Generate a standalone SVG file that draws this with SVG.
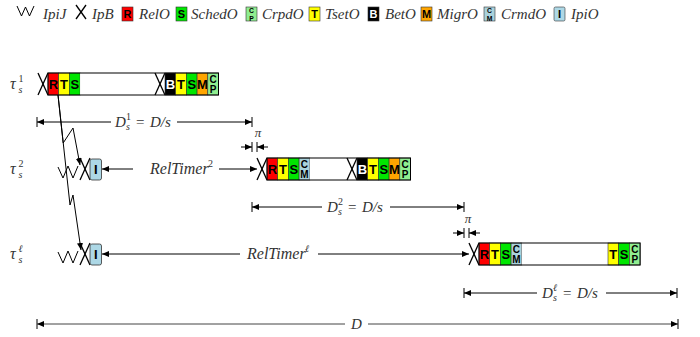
<svg xmlns="http://www.w3.org/2000/svg" width="700" height="337" viewBox="0 0 700 337">
<defs>
<style>
.m{font-style:italic;fill:#333;font-size:15px}
.mb{font-style:italic;fill:#333;font-size:16px}
.r{fill:#333;font-size:15px}
.sm{fill:#333;font-size:10px}
.smi{font-style:italic;fill:#333;font-size:10px}
.ln{stroke:#000;stroke-width:1;fill:none}
.x{stroke:#000;stroke-width:1.3;fill:none}
.c{stroke:#333;stroke-width:0.6}
.o{stroke:#000;stroke-width:1;fill:none}
.lt{font-weight:bold;font-size:13px;text-anchor:middle;fill:#000}
.lt2{font-weight:bold;font-size:10px;text-anchor:middle;fill:#000}
.ll{font-weight:bold;font-size:11px;text-anchor:middle;fill:#000}
.ll2{font-weight:bold;font-size:6.8px;text-anchor:middle;fill:#000}
.R{fill:#ff0000}.T{fill:#ffff00}.S{fill:#00e600}.M{fill:#ffa500}.B{fill:#000}.CP{fill:#90ee90}.CM{fill:#a9d2dc}.I{fill:#add8e6}.W{fill:#fff}
</style>
<marker id="ah" markerWidth="8" markerHeight="6" refX="7" refY="3" orient="auto-start-reverse" markerUnits="userSpaceOnUse">
<path d="M0,0 L7,3 L0,6 z" fill="#000"/>
</marker>
</defs>
<rect width="700" height="337" fill="#fff"/>

<g id="legend">
<polyline class="ln" points="17,6 21.5,16 25.5,7 29.5,16 34,6"/>
<line class="x" x1="76" y1="5" x2="86" y2="19"/><line class="x" x1="76" y1="19" x2="86" y2="5"/>
<rect class="R c" x="122" y="7" width="11" height="14"/>
<rect class="S c" x="176" y="7" width="11" height="14"/>
<rect class="CP c" x="246" y="7" width="11" height="14"/>
<rect class="T c" x="309" y="7" width="11" height="14"/>
<rect class="B c" x="368" y="7" width="11" height="14"/>
<rect class="M c" x="421" y="7" width="11" height="14"/>
<rect class="CM c" x="484" y="7" width="11" height="14"/>
<rect class="I c" x="554" y="7" width="11" height="14" rx="1.5"/>
<g font-family="'Liberation Sans', Arial, sans-serif">
<text class="ll" x="127.5" y="18">R</text>
<text class="ll" x="181.5" y="18">S</text>
<text class="ll2" x="251.5" y="13">C</text><text class="ll2" x="251.5" y="20.8">P</text>
<text class="ll" x="314.5" y="18">T</text>
<text class="ll" x="373.5" y="18" style="fill:#fff">B</text>
<text class="ll" x="426.5" y="18">M</text>
<text class="ll2" x="489.5" y="13">C</text><text class="ll2" x="489.5" y="20.8">M</text>
<text class="ll" x="559.5" y="18">I</text>
</g>
<g font-family="'Liberation Serif', 'DejaVu Serif', serif">
<text class="m" x="43" y="19">IpiJ</text>
<text class="m" x="92" y="19">IpB</text>
<text class="m" x="139" y="19">RelO</text>
<text class="m" x="191" y="19">SchedO</text>
<text class="m" x="262" y="19">CrpdO</text>
<text class="m" x="325" y="19">TsetO</text>
<text class="m" x="385" y="19">BetO</text>
<text class="m" x="437" y="19">MigrO</text>
<text class="m" x="501" y="19">CrmdO</text>
<text class="m" x="571" y="19">IpiO</text>
</g>
</g>

<g id="labels" font-family="'Liberation Serif', 'DejaVu Serif', serif">
<text class="mb" x="10" y="89">τ</text><text class="sm" x="18.5" y="82">1</text><text class="smi" x="18.5" y="93">s</text>
<text class="mb" x="10" y="174">τ</text><text class="sm" x="18.5" y="167">2</text><text class="smi" x="18.5" y="178">s</text>
<text class="mb" x="10" y="259">τ</text><text class="smi" x="18.5" y="252">ℓ</text><text class="smi" x="18.5" y="263">s</text>
</g>

<g id="task1" font-family="'Liberation Sans', Arial, sans-serif">
<line class="x" x1="38" y1="73" x2="48" y2="95"/><line class="x" x1="38" y1="95" x2="48" y2="73"/>
<rect class="R c" x="48" y="73" width="10.7" height="22"/><text class="lt" x="53.35" y="89">R</text>
<rect class="T c" x="58.7" y="73" width="10.7" height="22"/><text class="lt" x="64.05" y="89">T</text>
<rect class="S c" x="69.4" y="73" width="10.7" height="22"/><text class="lt" x="74.75" y="89">S</text>
<rect class="W" x="80.1" y="73" width="84.9" height="22"/>
<line class="x" x1="155" y1="73" x2="165" y2="95"/><line class="x" x1="155" y1="95" x2="165" y2="73"/>
<rect class="B c" x="165" y="73" width="10.7" height="22"/><text class="lt" x="170.35" y="89" style="fill:#fff">B</text>
<rect class="T c" x="175.7" y="73" width="10.7" height="22"/><text class="lt" x="181.05" y="89">T</text>
<rect class="S c" x="186.4" y="73" width="10.7" height="22"/><text class="lt" x="191.75" y="89">S</text>
<rect class="M c" x="197.1" y="73" width="10.7" height="22"/><text class="lt" x="202.45" y="89">M</text>
<rect class="CP c" x="207.8" y="73" width="10.7" height="22"/><text class="lt2" x="213.15" y="83">C</text><text class="lt2" x="213.15" y="93">P</text>
<rect class="o" x="48" y="73" width="170.5" height="22"/>
</g>

<g id="task2" font-family="'Liberation Sans', Arial, sans-serif">
<polyline class="ln" points="58,167 63,178 68,166 73,178 78,166"/>
<line class="x" x1="80" y1="158" x2="90" y2="180"/><line class="x" x1="80" y1="180" x2="90" y2="158"/>
<rect class="I" x="90" y="159" width="11.5" height="21" rx="2" stroke="#333" stroke-width="0.8"/><text class="lt" x="95.75" y="174">I</text>
<line class="x" x1="257" y1="158" x2="267" y2="180"/><line class="x" x1="257" y1="180" x2="267" y2="158"/>
<rect class="R c" x="267" y="158" width="10.7" height="22"/><text class="lt" x="272.35" y="174">R</text>
<rect class="T c" x="277.7" y="158" width="10.7" height="22"/><text class="lt" x="283.05" y="174">T</text>
<rect class="S c" x="288.4" y="158" width="10.7" height="22"/><text class="lt" x="293.75" y="174">S</text>
<rect class="CM c" x="299.1" y="158" width="10.7" height="22"/><text class="lt2" x="304.45" y="168">C</text><text class="lt2" x="304.45" y="178">M</text>
<rect class="W" x="309.8" y="158" width="47.2" height="22"/>
<line class="x" x1="347" y1="158" x2="357" y2="180"/><line class="x" x1="347" y1="180" x2="357" y2="158"/>
<rect class="B c" x="357" y="158" width="10.7" height="22"/><text class="lt" x="362.35" y="174" style="fill:#fff">B</text>
<rect class="T c" x="367.7" y="158" width="10.7" height="22"/><text class="lt" x="373.05" y="174">T</text>
<rect class="S c" x="378.4" y="158" width="10.7" height="22"/><text class="lt" x="383.75" y="174">S</text>
<rect class="M c" x="389.1" y="158" width="10.7" height="22"/><text class="lt" x="394.45" y="174">M</text>
<rect class="CP c" x="399.8" y="158" width="10.7" height="22"/><text class="lt2" x="405.15" y="168">C</text><text class="lt2" x="405.15" y="178">P</text>
<rect class="o" x="267" y="158" width="143.5" height="22"/>
</g>

<g id="taskl" font-family="'Liberation Sans', Arial, sans-serif">
<polyline class="ln" points="58,252 63,263 68,251 73,263 78,251"/>
<line class="x" x1="80" y1="243" x2="90" y2="265"/><line class="x" x1="80" y1="265" x2="90" y2="243"/>
<rect class="I" x="90" y="244" width="11.5" height="21" rx="2" stroke="#333" stroke-width="0.8"/><text class="lt" x="95.75" y="259">I</text>
<line class="x" x1="469" y1="243" x2="479" y2="265"/><line class="x" x1="469" y1="265" x2="479" y2="243"/>
<rect class="R c" x="479" y="243" width="10.7" height="22"/><text class="lt" x="484.35" y="259">R</text>
<rect class="T c" x="489.7" y="243" width="10.7" height="22"/><text class="lt" x="495.05" y="259">T</text>
<rect class="S c" x="500.4" y="243" width="10.7" height="22"/><text class="lt" x="505.75" y="259">S</text>
<rect class="CM c" x="511.1" y="243" width="10.7" height="22"/><text class="lt2" x="516.45" y="253">C</text><text class="lt2" x="516.45" y="263">M</text>
<rect class="W" x="521.8" y="243" width="86.2" height="22"/>
<rect class="T c" x="608" y="243" width="10.7" height="22"/><text class="lt" x="613.35" y="259">T</text>
<rect class="S c" x="618.7" y="243" width="10.7" height="22"/><text class="lt" x="624.05" y="259">S</text>
<rect class="CP c" x="629.4" y="243" width="10.7" height="22"/><text class="lt2" x="634.75" y="253">C</text><text class="lt2" x="634.75" y="263">P</text>
<rect class="o" x="479" y="243" width="161.1" height="22"/>
</g>

<g id="connectors">
<polyline class="ln" points="58,95 63.2,143 73,128 80,165" marker-end="url(#ah)"/>
<polyline class="ln" points="58,95 70,205 73,195 81,250" marker-end="url(#ah)"/>
<line class="ln" x1="133" y1="169" x2="102" y2="169" marker-end="url(#ah)"/>
<line class="ln" x1="219" y1="169" x2="257" y2="169" marker-end="url(#ah)"/>
<line class="ln" x1="240" y1="254" x2="102" y2="254" marker-end="url(#ah)"/>
<line class="ln" x1="318" y1="254" x2="469" y2="254" marker-end="url(#ah)"/>
<line class="ln" x1="37" y1="117" x2="37" y2="127"/>
<line class="ln" x1="37" y1="122" x2="111" y2="122" marker-start="url(#ah)"/>
<line class="ln" x1="177" y1="122" x2="252" y2="122" marker-end="url(#ah)"/>
<line class="ln" x1="252" y1="117" x2="252" y2="127"/>
<line class="ln" x1="241" y1="147" x2="252" y2="147" marker-end="url(#ah)"/>
<line class="ln" x1="252" y1="142" x2="252" y2="152"/>
<line class="ln" x1="257" y1="142" x2="257" y2="152"/>
<line class="ln" x1="268" y1="147" x2="257" y2="147" marker-end="url(#ah)"/>
<line class="ln" x1="252" y1="202" x2="252" y2="212"/>
<line class="ln" x1="252" y1="207" x2="322" y2="207" marker-start="url(#ah)"/>
<line class="ln" x1="390" y1="207" x2="464" y2="207" marker-end="url(#ah)"/>
<line class="ln" x1="464" y1="202" x2="464" y2="212"/>
<line class="ln" x1="453" y1="233" x2="464" y2="233" marker-end="url(#ah)"/>
<line class="ln" x1="464" y1="228" x2="464" y2="238"/>
<line class="ln" x1="469" y1="228" x2="469" y2="238"/>
<line class="ln" x1="480" y1="233" x2="469" y2="233" marker-end="url(#ah)"/>
<line class="ln" x1="464" y1="288" x2="464" y2="298"/>
<line class="ln" x1="464" y1="293" x2="537" y2="293" marker-start="url(#ah)"/>
<line class="ln" x1="606" y1="293" x2="677" y2="293" marker-end="url(#ah)"/>
<line class="ln" x1="677" y1="288" x2="677" y2="298"/>
<line class="ln" x1="37" y1="319" x2="37" y2="329"/>
<line class="ln" x1="37" y1="324" x2="345" y2="324" marker-start="url(#ah)" style="stroke:#444"/>
<line class="ln" x1="368" y1="324" x2="678" y2="324" marker-end="url(#ah)" style="stroke:#444"/>
<line class="ln" x1="678" y1="319" x2="678" y2="329"/>
</g>

<g id="texts" font-family="'Liberation Serif', 'DejaVu Serif', serif">
<text class="m" x="115" y="127">D</text><text class="smi" x="126" y="130">s</text><text class="sm" x="126" y="120">1</text><text class="r" x="136" y="127">=</text><text class="m" x="150" y="127">D/s</text>
<text class="m" x="327" y="212">D</text><text class="smi" x="338" y="215">s</text><text class="sm" x="338" y="205">2</text><text class="r" x="348" y="212">=</text><text class="m" x="362" y="212">D/s</text>
<text class="m" x="542" y="298">D</text><text class="smi" x="553" y="301">s</text><text class="smi" x="553" y="291">ℓ</text><text class="r" x="563" y="298">=</text><text class="m" x="577" y="298">D/s</text>
<text class="mb" x="150" y="174">RelTimer</text><text class="sm" x="208" y="167">2</text>
<text class="mb" x="247" y="259">RelTimer</text><text class="smi" x="305" y="252">ℓ</text>
<text class="m" x="258" y="137" text-anchor="middle" style="font-size:13px">π</text>
<text class="m" x="468" y="223" text-anchor="middle" style="font-size:13px">π</text>
<text class="m" x="351" y="329">D</text>
</g>
</svg>
